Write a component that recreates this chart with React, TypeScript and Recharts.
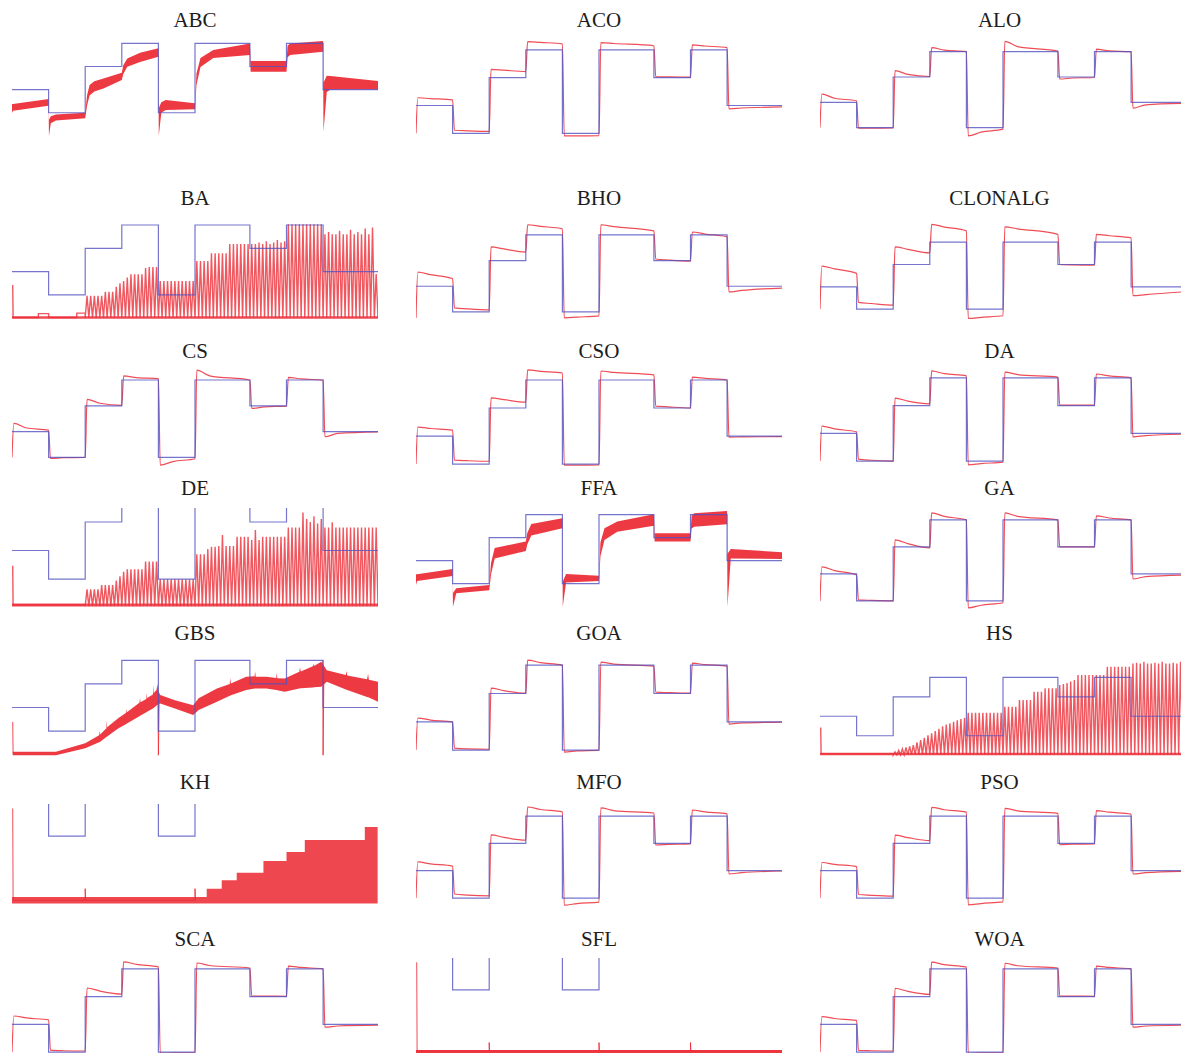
import { Area, ComposedChart, Line, XAxis, YAxis } from "recharts";

type Seg = [number, number, number];
type Pt = [number, number | null];
type BandPt = [number, number, number];

const RED = "#ec2e38";
const BLUE = "#5252c2";

// set-point schedule shared by every panel
const segmentStarts = [0, 1, 2, 3, 4, 5, 6.5, 7.5, 8.5, 10];
const referenceLevels = [2, 1, 3, 4, 1, 4, 3, 4, 2];

// tracking responses: [value right after the step, value 0.4 later, value at segment end]
const acoStart = 1.0;
const aco: Seg[] = [[2.28, 2.25, 2.2], [1.11, 1.09, 1.07], [3.3, 3.27, 3.22], [4.3, 4.27, 4.22], [0.91, 0.91, 0.92], [4.26, 4.23, 4.15], [3.04, 3.03, 3.02], [4.18, 4.14, 4.08], [1.88, 1.91, 1.95]];
const aloStart = 1.0;
const alo: Seg[] = [[2.32, 2.16, 2.06], [0.98, 0.98, 0.99], [3.25, 3.1, 3.02], [4.16, 4.06, 4.0], [0.67, 0.82, 0.94], [4.41, 4.2, 4.02], [2.92, 2.96, 2.98], [4.1, 4.03, 4.0], [1.77, 1.9, 1.96]];
const bhoStart = 0.77;
const bho: Seg[] = [[2.55, 2.45, 2.3], [1.16, 1.12, 1.08], [3.53, 3.45, 3.33], [4.39, 4.33, 4.23], [0.77, 0.8, 0.85], [4.39, 4.32, 4.15], [3.06, 3.02, 2.98], [4.11, 4.03, 3.92], [1.78, 1.84, 1.93]];
const clonalgStart = 1.0;
const clonalg: Seg[] = [[2.93, 2.8, 2.6], [1.3, 1.25, 1.18], [3.79, 3.68, 3.52], [4.8, 4.68, 4.51], [0.58, 0.63, 0.7], [4.69, 4.6, 4.35], [3.0, 2.98, 2.97], [4.35, 4.29, 4.2], [1.6, 1.65, 1.78]];
const csStart = 1.0;
const cs: Seg[] = [[2.32, 2.14, 2.06], [0.96, 0.99, 1.0], [3.25, 3.1, 3.02], [4.16, 4.09, 4.05], [0.7, 0.84, 0.95], [4.38, 4.16, 4.0], [2.9, 2.96, 2.99], [4.1, 4.04, 4.0], [1.8, 1.93, 1.99]];
const csoStart = 1.0;
const cso: Seg[] = [[2.32, 2.27, 2.21], [1.14, 1.12, 1.1], [3.36, 3.3, 3.21], [4.36, 4.31, 4.25], [0.96, 0.96, 0.97], [4.32, 4.27, 4.18], [3.07, 3.04, 3.0], [4.1, 4.06, 4.0], [1.96, 1.97, 1.98]];
const daStart = 1.0;
const da: Seg[] = [[2.26, 2.16, 2.05], [1.07, 1.03, 1.0], [3.27, 3.16, 3.06], [4.25, 4.15, 4.07], [0.86, 0.91, 0.96], [4.21, 4.12, 4.03], [3.02, 3.02, 3.02], [4.14, 4.07, 4.0], [1.87, 1.92, 1.97]];
const gaStart = 1.0;
const ga: Seg[] = [[2.26, 2.12, 1.96], [1.04, 1.02, 1.0], [3.26, 3.12, 2.96], [4.26, 4.13, 4.0], [0.74, 0.84, 0.93], [4.26, 4.13, 4.0], [3.0, 3.0, 3.0], [4.15, 4.07, 4.0], [1.81, 1.9, 1.96]];
const goaStart = 1.0;
const goa: Seg[] = [[2.13, 2.06, 1.99], [1.07, 1.04, 1.03], [3.19, 3.1, 3.01], [4.18, 4.09, 4.0], [0.93, 0.97, 1.0], [4.11, 4.04, 3.97], [3.05, 3.03, 3.01], [4.07, 4.02, 3.97], [1.92, 1.96, 1.99]];
const mfoStart = 1.0;
const mfo: Seg[] = [[2.32, 2.25, 2.17], [1.15, 1.11, 1.08], [3.31, 3.22, 3.12], [4.33, 4.24, 4.15], [0.74, 0.8, 0.85], [4.3, 4.2, 4.11], [2.94, 2.96, 2.98], [4.22, 4.15, 4.08], [1.88, 1.93, 1.99]];
const psoStart = 1.0;
const pso: Seg[] = [[2.3, 2.23, 2.15], [1.13, 1.1, 1.07], [3.3, 3.21, 3.1], [4.32, 4.23, 4.14], [0.75, 0.8, 0.86], [4.28, 4.19, 4.1], [2.95, 2.97, 2.98], [4.2, 4.14, 4.07], [1.88, 1.93, 1.98]];
const scaStart = 1.0;
const sca: Seg[] = [[2.3, 2.23, 2.16], [1.07, 1.05, 1.04], [3.31, 3.2, 3.09], [4.25, 4.16, 4.07], [0.96, 0.97, 0.98], [4.21, 4.12, 4.03], [3.02, 3.02, 3.01], [4.1, 4.05, 4.0], [1.9, 1.94, 1.97]];
const woaStart = 1.0;
const woa: Seg[] = [[2.28, 2.21, 2.14], [1.06, 1.05, 1.04], [3.3, 3.19, 3.08], [4.24, 4.15, 4.06], [0.95, 0.97, 0.98], [4.2, 4.11, 4.03], [3.02, 3.02, 3.01], [4.1, 4.05, 4.0], [1.9, 1.94, 1.97]];

// wide responses drawn as bands: [t, lower edge, upper edge]
const abcBand: BandPt[] = [[0, 0.99, 1.38], [0.03, 1.09, 1.38], [1.0, 1.3, 1.59], [1.01, -0.01, 0.7], [1.06, 0.55, 0.85], [1.2, 0.66, 0.92], [2.0, 0.76, 1.0], [2.05, 1.3, 1.75], [2.12, 1.75, 2.2], [2.25, 1.92, 2.36], [2.5, 2.05, 2.48], [3.0, 2.42, 2.73], [3.04, 2.68, 3.05], [3.15, 2.99, 3.35], [3.5, 3.2, 3.6], [4.0, 3.42, 3.79], [4.01, -0.01, 1.2], [4.08, 1.0, 1.45], [4.2, 1.12, 1.55], [5.0, 1.15, 1.41], [5.04, 2.2, 2.7], [5.15, 2.98, 3.37], [5.5, 3.37, 3.71], [6.5, 3.5, 4.0], [6.52, 2.77, 3.24], [7.5, 2.77, 3.24], [7.53, 3.4, 3.9], [7.6, 3.5, 4.0], [8.5, 3.64, 4.1], [8.51, 0.18, 2.3], [8.6, 1.9, 2.6], [8.7, 2.01, 2.59], [10, 2.01, 2.37]];
const ffaBand: BandPt[] = [[0, 0.94, 1.41], [0.03, 1.12, 1.41], [1.0, 1.33, 1.64], [1.01, 0.0, 0.6], [1.1, 0.58, 0.8], [2.0, 0.72, 0.94], [2.05, 1.4, 1.9], [2.15, 2.1, 2.55], [3.0, 2.42, 2.83], [3.04, 2.7, 3.2], [3.15, 3.1, 3.6], [4.0, 3.41, 3.84], [4.01, 0.0, 1.1], [4.1, 1.05, 1.42], [5.0, 1.12, 1.35], [5.04, 2.2, 2.8], [5.15, 2.9, 3.41], [5.5, 3.26, 3.7], [6.5, 3.52, 4.02], [6.52, 2.83, 3.19], [7.5, 2.83, 3.19], [7.53, 3.4, 3.95], [7.6, 3.48, 4.06], [8.5, 3.58, 4.16], [8.51, 0.0, 2.3], [8.6, 2.1, 2.51], [10, 2.07, 2.37]];
const gbsBand: BandPt[] = [
  [0.02, -0.02, 0.12], [1.2, -0.02, 0.12], [2.0, 0.27, 0.48], [2.38, 0.53, 0.82], [2.4, 0.54, 1.0], [2.41, 0.55, 0.86],
  [2.58, 0.75, 1.12], [2.59, 0.76, 1.45], [2.6, 0.77, 1.16], [2.9, 1.11, 1.54], [3.12, 1.3, 1.78], [3.13, 1.31, 1.95],
  [3.14, 1.32, 1.8], [3.48, 1.63, 2.2], [3.5, 1.65, 2.4], [3.51, 1.66, 2.22], [3.67, 1.8, 2.36], [3.68, 1.81, 2.62],
  [3.69, 1.82, 2.4], [3.85, 1.96, 2.55], [3.86, 1.97, 2.98], [3.87, 1.98, 2.6], [3.95, 2.08, 2.75], [3.97, 2.11, 3.0],
  [4.0, 2.15, 2.7], [4.05, 2.17, 2.53], [4.45, 1.96, 2.31], [4.95, 1.68, 2.1], [5.1, 1.89, 2.39], [5.6, 2.24, 2.81],
  [5.95, 2.5, 3.0], [5.96, 2.5, 3.25], [5.98, 2.52, 3.02], [6.4, 2.74, 3.3], [6.63, 2.8, 3.32], [6.64, 2.8, 3.55],
  [6.66, 2.8, 3.3], [6.95, 2.81, 3.3], [7.22, 2.74, 3.25], [7.23, 2.74, 3.45], [7.25, 2.73, 3.24], [7.45, 2.67, 3.23],
  [7.85, 2.81, 3.51], [7.87, 2.82, 3.7], [7.89, 2.82, 3.53], [8.22, 2.85, 3.75], [8.23, 2.85, 3.85], [8.25, 2.86, 3.76],
  [8.45, 2.88, 3.94], [8.6, 3.09, 3.58], [9.12, 2.76, 3.38], [9.14, 2.75, 3.55], [9.16, 2.74, 3.36], [9.7, 2.45, 3.2],
  [9.73, 2.43, 3.42], [9.75, 2.42, 3.18], [10, 2.24, 3.09],
];
const gbsSpikes: Pt[] = [[0.02, 1.39], [0.03, 0.05], [1, null], [3.99, 2.3], [4.0, -0.02], [4.02, 2.3], [6, null], [8.49, 4.0], [8.5, -0.02], [8.52, 3.3]];

// oscillating responses: peak of each swing, one swing every 0.1 from t = 2
const baPeaks = [
  0.96, 0.96, 0.96, 0.96, 0.96, 1.14, 1.14, 1.14, 1.35, 1.5, 1.6, 1.75, 1.89, 1.89, 1.89, 1.89, 2.15, 2.2, 2.2, 2.2,
  1.6, 1.6, 1.6, 1.6, 1.6, 1.6, 1.6, 1.6, 1.6, 1.6, 2.46, 2.46, 2.46, 2.46, 2.79, 2.79, 2.79, 2.79, 2.79, 3.18,
  3.18, 3.18, 3.18, 3.18, 3.18, 3.18, 3.18, 3.25, 3.18, 3.3, 3.18, 3.25, 3.36, 3.25, 3.3, 4.03, 4.03, 4.03, 4.03, 4.03,
  4.03, 4.03, 4.03, 4.03, 4.03, 3.6, 3.7, 3.6, 3.6, 3.75, 3.6, 3.6, 3.8, 3.6, 3.7, 3.6, 3.85, 3.6, 3.89, 1.9,
];
const baLead: Pt[] = [[0.02, 1.43], [0.03, 0.03], [0.72, 0.03], [0.72, 0.2], [1, 0.2], [1, 0.03], [1.77, 0.03], [1.77, 0.22], [2, 0.22]];
const dePeaks = [
  0.64, 0.64, 0.64, 0.64, 0.79, 0.79, 0.79, 0.79, 0.95, 1.1, 1.25, 1.34, 1.34, 1.34, 1.34, 1.34, 1.61, 1.61, 1.61, 1.61,
  0.99, 0.99, 0.99, 0.99, 0.99, 0.99, 0.99, 0.99, 0.99, 0.99, 1.87, 1.87, 1.87, 2.05, 2.13, 2.13, 2.16, 2.54, 2.16, 2.16,
  2.16, 2.48, 2.48, 2.48, 2.48, 2.37, 2.72, 2.37, 2.48, 2.48, 2.48, 2.48, 2.48, 2.48, 2.48, 2.81, 2.81, 2.81, 2.81, 3.33,
  3.1, 3.0, 3.2, 2.95, 3.1, 2.81, 2.81, 2.99, 2.81, 2.81, 2.81, 2.81, 2.81, 2.81, 2.81, 2.81, 2.81, 2.81, 2.81, 2.81,
];
const deLead: Pt[] = [[0.02, 1.47], [0.03, 0.09], [2, 0.09]];
const hsPeaks = [
  0.18, 0.25, 0.33, 0.4, 0.46, 0.52, 0.66, 0.78, 0.9, 1.02, 1.12, 1.24, 1.36, 1.48, 1.58, 1.64, 1.72, 1.8, 1.86, 1.92,
  2.18, 2.18, 2.18, 2.18, 2.18, 2.18, 2.18, 2.18, 2.18, 2.18, 2.49, 2.49, 2.49, 2.49, 2.83, 2.83, 2.83, 2.83, 3.26, 3.26,
  3.26, 3.43, 3.43, 3.43, 3.43, 3.6, 3.65, 3.7, 3.78, 3.86, 4.11, 4.11, 4.11, 4.11, 4.11, 4.11, 4.11, 4.11, 4.54, 4.54,
  4.54, 4.54, 4.54, 4.54, 4.54, 4.71, 4.75, 4.71, 4.8, 4.71, 4.71, 4.75, 4.71, 4.8, 4.71, 4.71, 4.75, 4.71, 4.8, 4.71,
];
const hsLead: Pt[] = [[0.02, 1.43], [0.03, 0.07], [2, 0.07]];

// staircase envelope of the KH oscillation, plus start and step spikes
const khEnvelope: BandPt[] = [[0, -0.05, 0.05], [5.32, -0.05, 0.18], [5.73, -0.05, 0.31], [6.14, -0.05, 0.43], [6.87, -0.05, 0.61], [7.5, -0.05, 0.75], [8.0, -0.05, 0.94], [9.64, -0.05, 1.14], [9.99, -0.05, 1.14]];
const khSpikes: Pt[] = [[0.02, 1.43], [0.03, 0], [2, 0], [2, 0.18], [2.01, 0], [5, 0], [5, 0.18], [5.01, 0]];
const sflBase: BandPt[] = [[0, -0.03, 0.02], [10, -0.03, 0.02]];
const sflSpikes: Pt[] = [[0.02, 1.45], [0.03, 0], [2, 0], [2, 0.14], [2.01, 0], [5, 0], [5, 0.14], [5.01, 0], [7.5, 0], [7.5, 0.14], [7.51, 0], [10, 0]];

const referenceData = segmentStarts.map((t, i) => ({ t, v: referenceLevels[Math.min(i, referenceLevels.length - 1)] }));

function stepResponse(start: number, segs: Seg[]) {
  const pts = [{ t: 0, v: start }];
  segs.forEach(([peak, mid, end], k) => {
    const t0 = segmentStarts[k];
    pts.push({ t: t0 + 0.05, v: peak }, { t: t0 + 0.4, v: mid }, { t: segmentStarts[k + 1], v: end });
  });
  return pts;
}

function swings(lead: Pt[], peaks: number[], floor: number) {
  const pts = lead.map(([t, v]) => ({ t, v }));
  peaks.forEach((p, i) => {
    const t = 2 + i * 0.1;
    pts.push({ t, v: floor }, { t: t + 0.05, v: p });
  });
  pts.push({ t: 2 + peaks.length * 0.1, v: floor });
  return pts;
}

const toPts = (a: Pt[]) => a.map(([t, v]) => ({ t, v }));
const toBand = (a: BandPt[]) => a.map(([t, lo, hi]) => ({ t, r: [lo, hi] }));

type Series = { kind: "line" | "band"; data: object[]; curve?: "linear" | "monotone" | "stepAfter"; width?: number; opacity?: number };
type PanelSpec = { name: string; row: number; col: number; domain: [number, number]; series: Series[] };

const COL_X = [12, 416, 820];
const TITLE_X = [12, 416, 816.5];
const PANEL_W = 366;
const ROWS = [
  { titleTop: 9.7, top: 36, height: 104 },
  { titleTop: 188.1, top: 215, height: 107 },
  { titleTop: 340.7, top: 364, height: 104 },
  { titleTop: 478.1, top: 508, height: 101 },
  { titleTop: 623.1, top: 657, height: 101 },
  { titleTop: 772.4, top: 804, height: 102 },
  { titleTop: 929.1, top: 958, height: 98 },
];

const step = (start: number, segs: Seg[]): Series[] => [{ kind: "line", data: stepResponse(start, segs), curve: "monotone" }];

const PANELS: PanelSpec[] = [
  { name: "ABC", row: 0, col: 0, domain: [-0.18, 4.32], series: [{ kind: "band", data: toBand(abcBand) }] },
  { name: "ACO", row: 0, col: 1, domain: [0.76, 4.5], series: step(acoStart, aco) },
  { name: "ALO", row: 0, col: 2, domain: [0.51, 4.62], series: step(aloStart, alo) },
  {
    name: "BA", row: 1, col: 0, domain: [-0.16, 4.43],
    series: [
      { kind: "line", data: toPts([[0, 0.03], [10, 0.03]]), width: 2.5 },
      { kind: "line", data: swings(baLead, baPeaks, 0.02), width: 1.4, opacity: 0.8 },
    ],
  },
  { name: "BHO", row: 1, col: 1, domain: [0.61, 4.77], series: step(bhoStart, bho) },
  { name: "CLONALG", row: 1, col: 2, domain: [0.42, 5.22], series: step(clonalgStart, clonalg) },
  { name: "CS", row: 2, col: 0, domain: [0.59, 4.62], series: step(csStart, cs) },
  { name: "CSO", row: 2, col: 1, domain: [0.86, 4.57], series: step(csoStart, cso) },
  { name: "DA", row: 2, col: 2, domain: [0.75, 4.5], series: step(daStart, da) },
  {
    name: "DE", row: 3, col: 0, domain: [-0.05, 3.49],
    series: [
      { kind: "line", data: toPts([[0, 0.09], [10, 0.09]]), width: 3 },
      { kind: "line", data: swings(deLead, dePeaks, 0.05), width: 1.4, opacity: 0.8 },
    ],
  },
  { name: "FFA", row: 3, col: 1, domain: [-0.1, 4.29], series: [{ kind: "band", data: toBand(ffaBand) }] },
  { name: "GA", row: 3, col: 2, domain: [0.7, 4.44], series: step(gaStart, ga) },
  {
    name: "GBS", row: 4, col: 0, domain: [-0.14, 4.14],
    series: [
      { kind: "band", data: toBand(gbsBand) },
      { kind: "line", data: toPts(gbsSpikes), width: 1 },
    ],
  },
  { name: "GOA", row: 4, col: 1, domain: [0.72, 4.29], series: step(goaStart, goa) },
  {
    name: "HS", row: 4, col: 2, domain: [-0.14, 5.04],
    series: [
      { kind: "line", data: toPts([[0, 0.07], [10, 0.07]]), width: 2.5 },
      { kind: "line", data: swings(hsLead, hsPeaks, 0.02), width: 1.4, opacity: 0.8 },
    ],
  },
  {
    name: "KH", row: 5, col: 0, domain: [-0.09, 1.5],
    series: [
      { kind: "band", data: toBand(khEnvelope), curve: "stepAfter", opacity: 0.88 },
      { kind: "line", data: toPts(khSpikes), width: 1 },
    ],
  },
  { name: "MFO", row: 5, col: 1, domain: [0.71, 4.44], series: step(mfoStart, mfo) },
  { name: "PSO", row: 5, col: 2, domain: [0.71, 4.44], series: step(psoStart, pso) },
  { name: "SCA", row: 6, col: 0, domain: [0.86, 4.39], series: step(scaStart, sca) },
  {
    name: "SFL", row: 6, col: 1, domain: [-0.08, 1.52],
    series: [
      { kind: "band", data: toBand(sflBase) },
      { kind: "line", data: toPts(sflSpikes), width: 1 },
    ],
  },
  { name: "WOA", row: 6, col: 2, domain: [0.86, 4.39], series: step(woaStart, woa) },
];

function Panel({ spec }: { spec: PanelSpec }) {
  const left = COL_X[spec.col];
  const row = ROWS[spec.row];
  return (
    <>
      <div
        style={{
          position: "absolute",
          left: TITLE_X[spec.col],
          top: row.titleTop,
          width: PANEL_W,
          textAlign: "center",
          fontFamily: '"Liberation Serif", "Times New Roman", serif',
          fontSize: 21,
          lineHeight: "21px",
          color: "#1c1c1c",
        }}
      >
        {spec.name}
      </div>
      <div style={{ position: "absolute", left, top: row.top }}>
        <ComposedChart width={PANEL_W} height={row.height} margin={{ top: 0, right: 0, bottom: 0, left: 0 }}>
          <XAxis type="number" dataKey="t" domain={[0, 10]} hide allowDataOverflow />
          <YAxis type="number" domain={spec.domain} hide allowDataOverflow />
          {spec.series.map((s, i) =>
            s.kind === "band" ? (
              <Area
                key={i}
                data={s.data}
                dataKey="r"
                type={s.curve ?? "linear"}
                stroke="none"
                fill={RED}
                fillOpacity={s.opacity ?? 0.95}
                dot={false}
                activeDot={false}
                isAnimationActive={false}
              />
            ) : (
              <Line
                key={i}
                data={s.data}
                dataKey="v"
                type={s.curve ?? "linear"}
                stroke={RED}
                strokeOpacity={s.opacity ?? 0.85}
                strokeWidth={s.width ?? 1.2}
                dot={false}
                activeDot={false}
                isAnimationActive={false}
              />
            )
          )}
          <Line
            data={referenceData}
            dataKey="v"
            type="stepAfter"
            stroke={BLUE}
            strokeOpacity={0.8}
            strokeWidth={1.2}
            dot={false}
            activeDot={false}
            isAnimationActive={false}
          />
        </ComposedChart>
      </div>
    </>
  );
}

export default function App() {
  return (
    <div
      style={{
        position: "absolute",
        left: 0,
        top: 0,
        width: 1181,
        height: 1053,
        overflow: "hidden",
        background: "#fff",
      }}
    >
      {PANELS.map((p) => (
        <Panel key={p.name} spec={p} />
      ))}
    </div>
  );
}
